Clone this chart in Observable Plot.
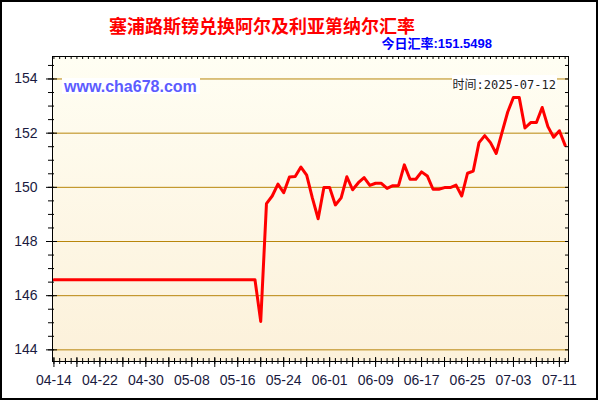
<!DOCTYPE html>
<html>
<head>
<meta charset="utf-8">
<script src="https://cdn.jsdelivr.net/npm/d3@7"></script>
<script src="https://cdn.jsdelivr.net/npm/@observablehq/plot@0.6"></script>
<style>
html, body { margin: 0; padding: 0; background: #fff; }
#wrap { position: relative; width: 600px; height: 400px; overflow: hidden; background: #fff; }
#wrap svg { position: absolute; left: 0; top: 0; }
#border { position: absolute; left: 0; top: 0; width: 594px; height: 396px; border: 2px solid #000; pointer-events: none; }
#title { position: absolute; left: 0; width: 524px; top: 12px; height: 22px; line-height: 22px; text-align: center;
  font: bold 18px "Noto Sans CJK SC", sans-serif; color: #ff0000; white-space: nowrap; }
#rate { position: absolute; right: 108px; top: 33px; height: 16px; line-height: 16px; text-align: right;
  font: bold 13px "Liberation Sans", "Noto Sans CJK SC", sans-serif; color: #0000ff; white-space: nowrap; }
#site { position: absolute; left: 62px; top: 78px; width: 138px; height: 16px; line-height: 16px; background: #fff;
  font: bold 16px "Liberation Sans", sans-serif; color: #5c5cff; padding-left: 2px; box-sizing: border-box; white-space: nowrap; }
#time { position: absolute; right: 43px; top: 75px; height: 13px; line-height: 13px; background: #fff; padding: 0 1px;
  font: 12px "DejaVu Sans Mono", "Noto Sans CJK SC", monospace; color: #222; white-space: nowrap; }
</style>
</head>
<body>
<div id="wrap">
  <div id="chart"></div>
  <div id="title">塞浦路斯镑兑换阿尔及利亚第纳尔汇率</div>
  <div id="rate">今日汇率:151.5498</div>
  <div id="site">www.cha678.com</div>
  <div id="time">时间:2025-07-12</div>
  <div id="border"></div>
</div>
<script>
// ---- data ----
const startDate = "2025-04-14"; // one value per day from this date
const rates = [
  146.59, 146.59, 146.59, 146.59, 146.59, 146.59, 146.59, 146.59, 146.59, 146.59,
  146.59, 146.59, 146.59, 146.59, 146.59, 146.59, 146.59, 146.59, 146.59, 146.59,
  146.59, 146.59, 146.59, 146.59, 146.59, 146.59, 146.59, 146.59, 146.59, 146.59,
  146.59, 146.59, 146.59, 146.59, 146.59, 146.59,
  145.05, 149.40, 149.68, 150.12, 149.80, 150.38, 150.40, 150.75, 150.45, 149.60,
  148.84, 149.99, 149.99, 149.35, 149.61, 150.39, 149.91, 150.17, 150.36, 150.07,
  150.15, 150.15, 149.96, 150.06, 150.07, 150.83, 150.30, 150.30, 150.57, 150.42,
  149.93, 149.93, 149.99, 149.99, 150.08, 149.68, 150.52, 150.60, 151.65, 151.91,
  151.65, 151.25, 152.02, 152.78, 153.32, 153.32, 152.19, 152.39, 152.39, 152.95,
  152.24, 151.85, 152.09, 151.5498
];
const xTickLabels = ["04-14", "04-22", "04-30", "05-08", "05-16", "05-24", "06-01", "06-09", "06-17", "06-25", "07-03", "07-11"];
const yTicks = [144, 146, 148, 150, 152, 154];
const yMinorTicks = [144, 144.5, 145, 145.5, 146, 146.5, 147, 147.5, 148, 148.5, 149, 149.5, 150, 150.5, 151, 151.5, 152, 152.5, 153, 153.5, 154, 154.5];

// ---- build ----
const t0 = d3.utcParse("%Y-%m-%d")(startDate);
const data = rates.map((v, i) => ({ date: d3.utcDay.offset(t0, i), rate: v }));
const days = data.map(d => d.date);
const majorDays = days.filter((d, i) => i % 4 === 0);
const xTicks = xTickLabels.map(s => d3.utcParse("%Y-%m-%d")("2025-" + s));

const W = 600, H = 400, mL = 52, mR = 32, mT = 56, mB = 39;
const fw = W - mL - mR, fh = H - mT - mB;

const svg = Plot.plot({
  width: W, height: H,
  marginLeft: mL, marginRight: mR, marginTop: mT, marginBottom: mB,
  style: { background: "transparent", fontFamily: "'Liberation Sans', Arial, sans-serif", overflow: "visible" },
  x: { type: "utc", label: null, domain: [d3.utcHour.offset(t0, -6), d3.utcHour.offset(days[days.length - 1], 14)] },
  y: { label: null, domain: [143.57, 154.83] },
  marks: [
    Plot.frame({ fill: "url(#bgGrad)", stroke: null }),
    Plot.ruleY(yTicks, { stroke: "#b8860b", strokeWidth: 1 }),
    Plot.line(data, { x: "date", y: "rate", stroke: "#ff0000", strokeWidth: 3, strokeLinejoin: "round" }),
    Plot.frame({ stroke: "#000", strokeWidth: 1 }),
    // bottom axis ticks (crossing the axis line)
    Plot.ruleX(days, { x: d => d, insetTop: fh - 3, insetBottom: -3, stroke: "#000" }),
    Plot.ruleX(majorDays, { x: d => d, insetTop: fh - 4, insetBottom: -6, stroke: "#000" }),
    // top ticks
    Plot.ruleX(days, { x: d => d, insetTop: 0, insetBottom: fh - 3, stroke: "#000" }),
    // left ticks
    Plot.ruleY(yMinorTicks, { y: d => d, insetLeft: -4, insetRight: fw - 2, stroke: "#000" }),
    Plot.ruleY(yTicks, { y: d => d, insetLeft: -6, insetRight: fw - 5, stroke: "#000" }),
    // right ticks
    Plot.ruleY(yMinorTicks, { y: d => d, insetLeft: fw - 3, insetRight: 0, stroke: "#000" }),
    // labels
    Plot.axisX(xTicks, { label: null, tickSize: 0, tickPadding: 14, fontSize: 14, fill: "#1a1a40", tickFormat: d3.utcFormat("%m-%d") }),
    Plot.axisY(yTicks, { label: null, tickSize: 0, tickPadding: 15, fontSize: 14, fill: "#1a1a40", tickFormat: d => String(d) })
  ]
});

const defs = document.createElementNS("http://www.w3.org/2000/svg", "defs");
defs.innerHTML = '<linearGradient id="bgGrad" x1="0" y1="0" x2="0" y2="1">' +
  '<stop offset="0" stop-color="#fffef3"/><stop offset="1" stop-color="#fcf1da"/></linearGradient>';
svg.insertBefore(defs, svg.firstChild);
document.getElementById("chart").appendChild(svg);
</script>
</body>
</html>
